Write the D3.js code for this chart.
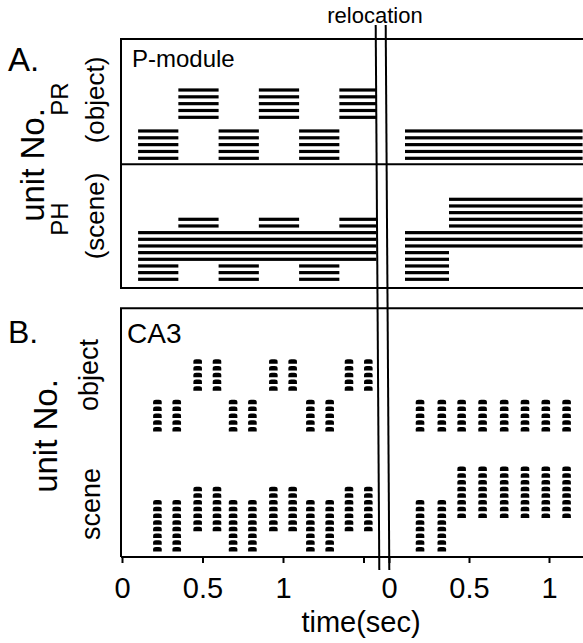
<!DOCTYPE html>
<html>
  <head>
    <meta charset="utf-8">
    <title>P-module and CA3 relocation</title>
    <script src="https://d3js.org/d3.v7.min.js"></script>
    <style>
      body { margin: 0; background: #fff; }
      svg text { font-family: "Liberation Sans", Arial, Helvetica, sans-serif; fill: #000; }
    </style>
  </head>
  <body>
    <div id="chart"></div>
    <script>
      // firing intervals (sec) per unit, before and after relocation
      // PR (object) units: [unit, start, end]
      const prBefore = [
        [1, 0.1, 0.35], [2, 0.1, 0.35], [3, 0.1, 0.35], [4, 0.1, 0.35], [5, 0.1, 0.35],
        [1, 0.6, 0.85], [2, 0.6, 0.85], [3, 0.6, 0.85], [4, 0.6, 0.85], [5, 0.6, 0.85],
        [1, 1.1, 1.35], [2, 1.1, 1.35], [3, 1.1, 1.35], [4, 1.1, 1.35], [5, 1.1, 1.35],
        [7, 0.35, 0.6], [8, 0.35, 0.6], [9, 0.35, 0.6], [10, 0.35, 0.6], [11, 0.35, 0.6],
        [7, 0.85, 1.1], [8, 0.85, 1.1], [9, 0.85, 1.1], [10, 0.85, 1.1], [11, 0.85, 1.1],
        [7, 1.35, 1.58], [8, 1.35, 1.58], [9, 1.35, 1.58], [10, 1.35, 1.58], [11, 1.35, 1.58]
      ];
      const prAfter = [
        [1, 0.1, 1.21], [2, 0.1, 1.21], [3, 0.1, 1.21], [4, 0.1, 1.21], [5, 0.1, 1.21]
      ];
      // PH (scene) units
      const phBefore = [
        [1, 0.1, 0.35], [2, 0.1, 0.35], [3, 0.1, 0.35],
        [1, 0.6, 0.85], [2, 0.6, 0.85], [3, 0.6, 0.85],
        [1, 1.1, 1.35], [2, 1.1, 1.35], [3, 1.1, 1.35],
        [4, 0.1, 1.58], [5, 0.1, 1.58], [6, 0.1, 1.58], [7, 0.1, 1.58], [8, 0.1, 1.58],
        [9, 0.35, 0.6], [10, 0.35, 0.6],
        [9, 0.85, 1.1], [10, 0.85, 1.1],
        [9, 1.35, 1.58], [10, 1.35, 1.58]
      ];
      const phAfter = [
        [1, 0.1, 0.375], [2, 0.1, 0.375], [3, 0.1, 0.375], [4, 0.1, 0.375], [5, 0.1, 0.375],
        [6, 0.1, 1.21], [7, 0.1, 1.21], [8, 0.1, 1.21],
        [9, 0.375, 1.21], [10, 0.375, 1.21], [11, 0.375, 1.21], [12, 0.375, 1.21], [13, 0.375, 1.21]
      ];
      // CA3 theta-burst times (sec)
      const caTimesBefore = [0.22, 0.34, 0.47, 0.59, 0.69, 0.81, 0.94, 1.06, 1.17, 1.29, 1.41, 1.53];
      const caTimesAfter = [0.194, 0.33, 0.454, 0.585, 0.72, 0.85, 0.98, 1.11];
      // axis ticks
      const ticksBefore = [0, 0.5, 1, 1.5];
      const tickLabelsBefore = ["0", "0.5", "1", ""];
      const ticksAfter = [0, 0.5, 1];
      const tickLabelsAfter = ["0", "0.5", "1"];

      const width = 583, height = 643;
      const svg = d3.select("#chart").append("svg")
        .attr("width", width)
        .attr("height", height);

      // time scales, one each side of the relocation
      const xL = d3.scaleLinear().domain([0, 1]).range([122, 283]);
      const xR = d3.scaleLinear().domain([0, 1]).range([389, 549]);

      // unit scales per panel
      const yPR = d3.scaleLinear().domain([1, 11]).range([158.3, 90]);
      const yPH = d3.scaleLinear().domain([1, 13]).range([279.3, 199.3]);
      const yObj = d3.scaleLinear().domain([1, 11]).range([429.3, 361.7]);
      const yScene = d3.scaleLinear().domain([1, 13]).range([549.3, 469]);

      // frames
      const frame = svg.append("g")
        .attr("stroke", "#000")
        .attr("stroke-width", 2)
        .attr("fill", "none");
      frame.append("path").attr("d", "M583,39H121V288H583");
      frame.append("path").attr("d", "M121,164.3H583");
      frame.append("path").attr("d", "M583,308.3H121V557");

      // P-module bars
      function bars(data, x, y) {
        svg.append("g")
          .selectAll("rect")
          .data(data)
          .join("rect")
            .attr("x", d => x(d[1]))
            .attr("width", d => x(d[2]) - x(d[1]))
            .attr("y", d => y(d[0]) - 1.6)
            .attr("height", 3.2)
            .attr("fill", "#000");
      }
      bars(prBefore, xL, yPR);
      bars(prAfter, xR, yPR);
      bars(phBefore, xL, yPH);
      bars(phAfter, xR, yPH);

      // CA3 spikes: units active at each burst time
      function spikes(times, intervals, x, y) {
        const pts = [];
        times.forEach(t => {
          intervals.forEach(d => {
            if (t >= d[1] && t <= d[2]) pts.push([t, d[0]]);
          });
        });
        const w = 4.3, top = 2.4, bot = 2.1;
        svg.append("g")
          .selectAll("path")
          .data(pts)
          .join("path")
            .attr("d", d => {
              const cx = x(d[0]), cy = y(d[1]);
              return "M" + (cx - w) + "," + (cy + bot) + "V" + (cy) +
                "Q" + (cx - w) + "," + (cy - top) + " " + (cx - 1.5) + "," + (cy - top) +
                "H" + (cx + 1.5) +
                "Q" + (cx + w) + "," + (cy - top) + " " + (cx + w) + "," + (cy) +
                "V" + (cy + bot) + "Z";
            })
            .attr("fill", "#000");
      }
      spikes(caTimesBefore, prBefore, xL, yObj);
      spikes(caTimesAfter, prAfter, xR, yObj);
      spikes(caTimesBefore, phBefore, xL, yScene);
      spikes(caTimesAfter, phAfter, xR, yScene);

      // time axes
      const axisY = 557;
      const axL = svg.append("g")
        .attr("transform", "translate(0," + axisY + ")")
        .call(d3.axisBottom(xL).tickValues(ticksBefore).tickSize(6)
          .tickFormat((d, i) => tickLabelsBefore[i]));
      const axR = svg.append("g")
        .attr("transform", "translate(0," + axisY + ")")
        .call(d3.axisBottom(xR).tickValues(ticksAfter).tickSize(6)
          .tickFormat((d, i) => tickLabelsAfter[i]));
      [axL, axR].forEach(ax => {
        ax.select(".domain").remove();
        ax.selectAll(".tick line").attr("stroke-width", 2);
        ax.selectAll(".tick text")
          .attr("y", 41)
          .attr("dy", 0)
          .style("font-size", "29px");
      });
      svg.append("path")
        .attr("d", "M121," + axisY + "H583")
        .attr("stroke", "#000")
        .attr("stroke-width", 2);

      // relocation lines
      svg.append("g")
        .attr("stroke", "#000")
        .attr("stroke-width", 2)
        .selectAll("line")
        .data([[375.7, 379.3], [385.7, 389.3]])
        .join("line")
          .attr("x1", d => d[0]).attr("y1", 25)
          .attr("x2", d => d[1]).attr("y2", 570);

      // texts
      function label(txt, x, y, size, opts) {
        const t = svg.append("text")
          .attr("x", x)
          .attr("y", y)
          .style("font-size", size + "px")
          .text(txt);
        if (opts && opts.anchor) t.attr("text-anchor", opts.anchor);
        if (opts && opts.rotate) {
          t.attr("x", 0).attr("y", 0)
            .attr("text-anchor", "middle")
            .attr("transform", "translate(" + x + "," + y + ") rotate(-90)");
        }
        return t;
      }
      label("relocation", 375, 23, 22, { anchor: "middle" });
      label("A.", 8, 71, 33);
      label("B.", 8, 343, 32);
      label("P-module", 132, 67, 24);
      label("CA3", 127, 343, 28);
      label("unit No.", 44, 165, 33, { rotate: true });
      label("PR", 68, 99, 24, { rotate: true });
      label("(object)", 104, 100, 26, { rotate: true });
      label("PH", 68, 219, 24, { rotate: true });
      label("(scene)", 104, 216, 26, { rotate: true });
      label("unit No.", 57, 436, 33, { rotate: true });
      label("object", 98, 375, 27, { rotate: true });
      label("scene", 100, 504, 27, { rotate: true });
      label("time(sec)", 361, 632, 29, { anchor: "middle" });
    </script>
  </body>
</html>
